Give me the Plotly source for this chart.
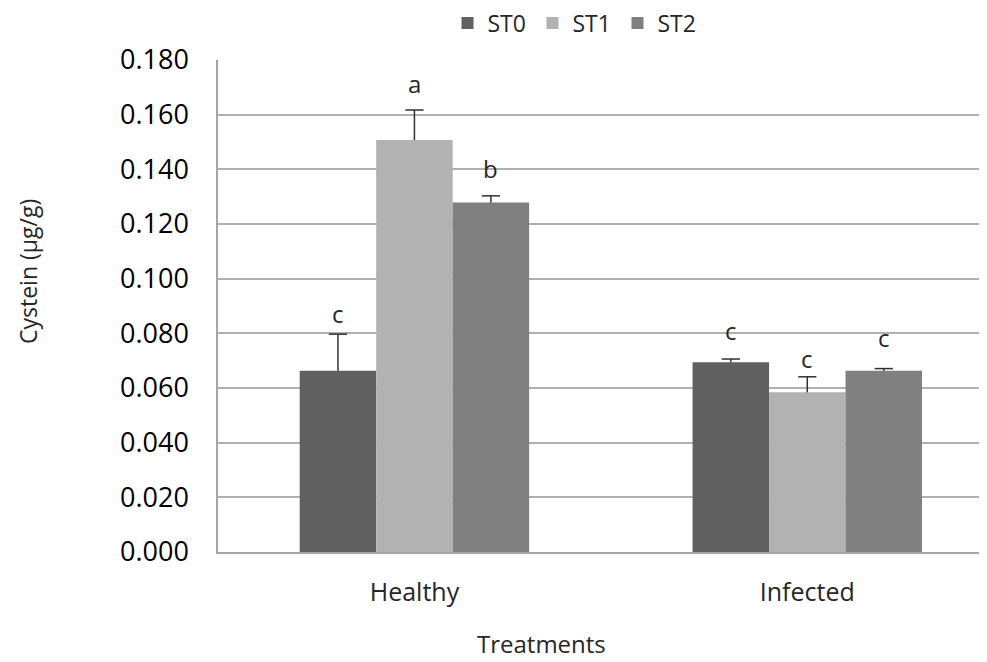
import plotly.graph_objects as go

categories = ["Healthy", "Infected"]
series_names = ["ST0", "ST1", "ST2"]
st0_values = [0.0663, 0.0694]
st1_values = [0.1507, 0.0584]
st2_values = [0.1279, 0.0663]
st0_errors = [0.0134, 0.0012]
st1_errors = [0.0110, 0.0057]
st2_errors = [0.0024, 0.0008]
st0_letters = ["c", "c"]
st1_letters = ["a", "c"]
st2_letters = ["b", "c"]
y_ticks = [0.0, 0.02, 0.04, 0.06, 0.08, 0.10, 0.12, 0.14, 0.16, 0.18]
y_tick_labels = ["0.000", "0.020", "0.040", "0.060", "0.080", "0.100", "0.120", "0.140", "0.160", "0.180"]

colors = ["#606060", "#b2b2b2", "#808080"]
font = "'Open Sans', sans-serif"
# pixel lift of each letter above its error-bar cap (style only)
letter_lift = [[2, 10], [8, 0], [9, 13]]

values = [st0_values, st1_values, st2_values]
errors = [st0_errors, st1_errors, st2_errors]
letters = [st0_letters, st1_letters, st2_letters]

bargap = 0.416
fig = go.Figure()
for name, v, e, c in zip(series_names, values, errors, colors):
    fig.add_trace(go.Bar(
        x=categories, y=v, name=name,
        marker=dict(color=c, line=dict(width=0)),
        error_y=dict(type="data", array=e, symmetric=False, arrayminus=[0] * len(e),
                     color="#303030", thickness=1.5, width=0),
    ))

# caps and significance letters on a hidden numeric axis aligned with the category axis
n = len(series_names)
group_width = 1 - bargap
bw = group_width / n
cap_x, cap_y = [], []
annotations = []
for i in range(n):
    off = -group_width / 2 + bw * (i + 0.5)
    for j in range(len(categories)):
        xx = j + off
        yy = values[i][j] + errors[i][j]
        cap_x.append(xx)
        cap_y.append(yy)
        annotations.append(dict(
            x=xx, y=yy, xref="x2", yref="y", text=letters[i][j], showarrow=False,
            xanchor="center", yanchor="bottom", yshift=letter_lift[i][j],
            font=dict(family=font, size=24, color="#262626"),
        ))

fig.add_trace(go.Scatter(
    x=cap_x, y=cap_y, xaxis="x2", mode="markers",
    marker=dict(symbol="line-ew", size=13, line=dict(color="#303030", width=1.5)),
    showlegend=False, hoverinfo="skip",
))

annotations += [
    dict(x=(27 - 217) / 770, y=(552 - 272) / 492, xref="paper", yref="paper", text="Cystein (µg/g)",
         textangle=-90, showarrow=False, xanchor="center", yanchor="middle",
         font=dict(family=font, size=23, color="#262626")),
    dict(x=(540 - 217) / 770, y=-(643 - 552) / 492, xref="paper", yref="paper", text="Treatments",
         showarrow=False, xanchor="center", yanchor="middle",
         font=dict(family=font, size=24, color="#262626")),
]

fig.update_layout(
    width=987, height=662,
    margin=dict(l=210, r=7, t=52, b=118, autoexpand=False),
    paper_bgcolor="white", plot_bgcolor="white",
    barmode="group", bargap=bargap, bargroupgap=0,
    font=dict(family=font, color="#262626"),
    showlegend=True,
    legend=dict(orientation="h", x=(574 - 217) / 770, xanchor="center",
                y=1 + (52 - 15) / 492, yanchor="middle",
                font=dict(family=font, size=23, color="#262626"),
                itemwidth=30, entrywidth=40, traceorder="normal", itemclick=False),
    annotations=annotations,
    xaxis2=dict(overlaying="x", range=[-0.5, 1.46], visible=False),
)
fig.update_yaxes(
    range=[0, 0.18], tickvals=y_ticks, ticktext=y_tick_labels,
    showgrid=True, gridcolor="#b0b0b0", gridwidth=1.5,
    showline=True, linecolor="#a6a6a6", linewidth=1.5,
    ticks="", ticklabelstandoff=22, zeroline=False,
    tickfont=dict(family=font, size=27, color="#000000"),
)
fig.update_layout(xaxis=dict(
    range=[-0.5, 1.46],
    showline=True, linecolor="#a6a6a6", linewidth=1.5, ticks="",
    ticklabelstandoff=17,
    tickfont=dict(family=font, size=25, color="#262626"),
))

fig.write_html("out.html")
